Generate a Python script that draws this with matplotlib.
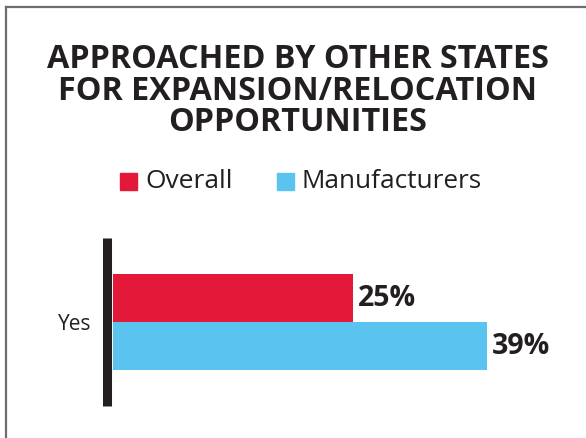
import matplotlib
matplotlib.use("Agg")
import matplotlib.pyplot as plt
from matplotlib.patches import Rectangle

categories = ["Yes"]
series_names = ["Overall", "Manufacturers"]
overall = [25]
manufacturers = [39]
colors = ["#E4193A", "#5BC3F0"]
title = "APPROACHED BY OTHER STATES\nFOR EXPANSION/RELOCATION\nOPPORTUNITIES"

W, H = 586, 438
fig = plt.figure(figsize=(W / 100, H / 100), dpi=100)
plt.rcParams["font.family"] = ["Open Sans", "DejaVu Sans"]
ink = "#231F20"

# frame around the panel (open on the right and bottom)
fig.add_artist(plt.Line2D([6 / W, 1.0], [1 - 7 / H, 1 - 7 / H], color="#6d6d6d", lw=1.6,
                          transform=fig.transFigure))
fig.add_artist(plt.Line2D([6 / W, 6 / W], [0.0, 1 - 7 / H], color="#6d6d6d", lw=1.6,
                          transform=fig.transFigure))

fig.text(298 / W, 1 - 91 / H, title, ha="center", va="center", fontsize=23.3,
         fontweight="bold", color=ink, linespacing=0.95)

# legend
def legend_item(x_sq, label, color, size):
    fig.add_artist(Rectangle((x_sq / W, 1 - 190 / H), 17 / W, 17 / H, color=color,
                             transform=fig.transFigure))
    fig.text((x_sq + 25) / W, 1 - 181 / H, label, ha="left", va="center",
             fontsize=size, color=ink)

legend_item(120, series_names[0], colors[0], 19)
legend_item(277, series_names[1], colors[1], 18.8)

# bar area
left_px, right_px = 113, 570
top_px, bot_px = 238, 406
px_per_pct = 9.58
ax = fig.add_axes([left_px / W, 1 - bot_px / H, (right_px - left_px) / W, (bot_px - top_px) / H])
ax.set_xlim(0, (right_px - left_px) / px_per_pct)
ax.set_ylim(-0.875, 0.875)

ypos = list(range(len(categories)))
h = 0.5
ax.barh([y + h / 2 for y in ypos], overall, height=h, color=colors[0])
ax.barh([y - h / 2 for y in ypos], manufacturers, height=h, color=colors[1])

for y, v in zip(ypos, overall):
    ax.text(v + 0.55, y + h / 2 - 0.01, f"{v}%", ha="left", va="center", fontsize=20.5,
            fontweight="bold", color=ink)
for y, v in zip(ypos, manufacturers):
    ax.text(v + 0.55, y - h / 2 - 0.01, f"{v}%", ha="left", va="center", fontsize=20.5,
            fontweight="bold", color=ink)

for s in ["top", "right", "bottom"]:
    ax.spines[s].set_visible(False)
ax.spines["left"].set_linewidth(6.5)
ax.spines["left"].set_color(ink)
ax.spines["left"].set_capstyle("butt")
ax.spines["left"].set_position(("outward", 4))
ax.set_xticks([])
ax.set_yticks(ypos)
ax.set_yticklabels(categories, fontsize=15, color=ink)
ax.tick_params(axis="y", length=0, pad=11.5)
ax.patch.set_alpha(0)

fig.savefig("out.png", dpi=100)
